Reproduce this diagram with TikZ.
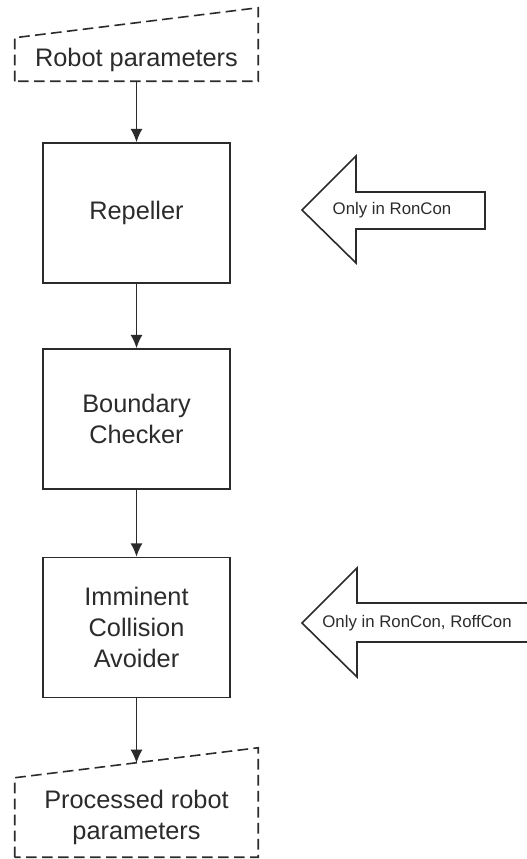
\documentclass[tikz,border=0pt]{standalone}
\usepackage{fontspec}
\setmainfont{Liberation Sans}
\usepackage{tikz}
\usetikzlibrary{positioning,shapes,arrows.meta}

\definecolor{ink}{HTML}{2B2B2B}

\begin{document}
\begin{tikzpicture}[x=0.75pt,y=-0.75pt]
\tikzstyle{every node}+=[inner sep=0pt,text=ink]
\tikzstyle{stage}=[draw=ink,line width=1.2pt,minimum width=140.25pt,minimum height=105pt,align=center,font=\fontsize{19pt}{23.3pt}\selectfont]
\tikzstyle{io}=[minimum width=182.25pt,align=center,font=\fontsize{19pt}{23.3pt}\selectfont]
\tikzstyle{iolines}=[draw=ink,line width=1.2pt,dash pattern=on 8pt off 4pt]
\tikzstyle{flow}=[draw=ink,line width=1pt,-{Latex[length=10pt,width=9pt]}]
\tikzstyle{note}=[font=\fontsize{12.6pt}{15pt}\selectfont]
\tikzstyle{block}=[draw=ink,line width=1.2pt,line join=miter]
\useasboundingbox (0,0) rectangle (527,859);
% input / output
\node [io,minimum height=32.25pt] (in) at (136.5,59.5) {Robot parameters};
\draw [iolines] (in.south west) -- (in.north west) -- ([yshift=22.5pt]in.north east) -- (in.south east) -- cycle;
\node [io,minimum height=59.25pt] (out) at (136.5,817.5) {Processed robot\\parameters};
\draw [iolines] (out.south west) -- (out.north west) -- ([yshift=22.5pt]out.north east) -- (out.south east) -- cycle;
\coordinate (outtop) at (136.5,763);
% stages
\node [stage] (rep) at (136.5,213) {Repeller};
\node [stage] (bc) at (136.5,419) {Boundary\\Checker};
\node [stage] (ica) at (136.5,627.5) {Imminent\\Collision\\Avoider};
\draw [flow] (in) -- (rep);
\draw [flow] (rep) -- (bc);
\draw [flow] (bc) -- (ica);
\draw [flow] (ica) -- (outtop);
% side notes
\draw [block] (302,210) -- (356,156) -- (356,192) -- (485,192) -- (485,229) -- (356,229) -- (356,263) -- cycle;
\node [note] (n1) at (392,210) {Only in RonCon};
\draw [block] (527,603) -- (357,603) -- (357,568) -- (302,623) -- (357,677) -- (357,642) -- (527,642);
\node [note] (n2) at (417,623) {Only in RonCon, RoffCon};
\end{tikzpicture}
\end{document}
